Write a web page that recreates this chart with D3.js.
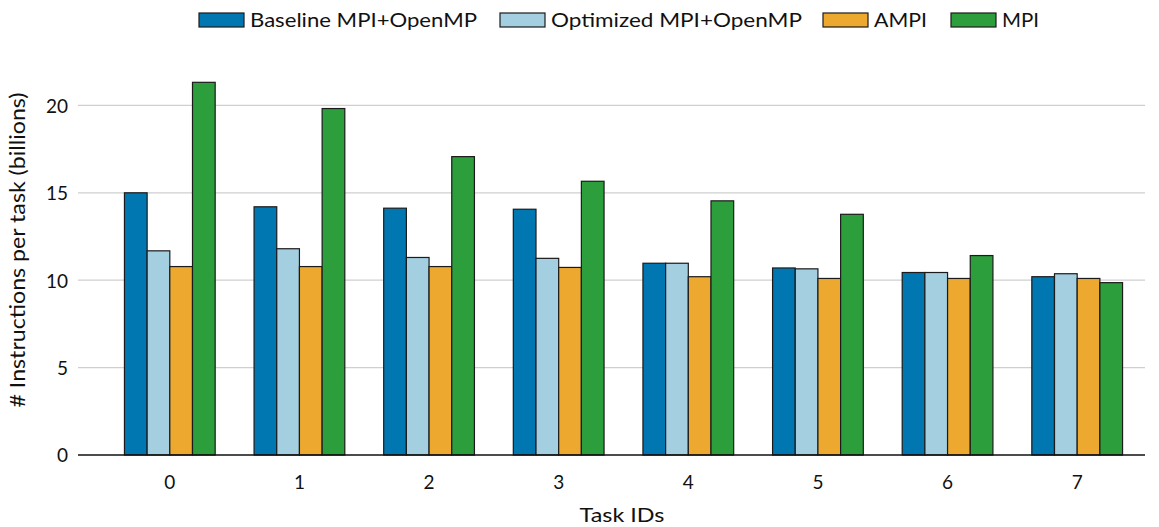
<!DOCTYPE html>
<html>
<head>
<meta charset="utf-8">
<script src="https://cdn.jsdelivr.net/npm/d3@7"></script>
<style>
  body { margin: 0; background: #fff; }
  text { font-family: Lato, "Open Sans", sans-serif; fill: #111; }
</style>
</head>
<body>
<svg id="chart" width="1159" height="527"></svg>
<script>
// data
const tasks = ["0", "1", "2", "3", "4", "5", "6", "7"];
const seriesNames = ["Baseline MPI+OpenMP", "Optimized MPI+OpenMP", "AMPI", "MPI"];
const seriesColors = ["#0077b0", "#a3cfe1", "#eda92f", "#2c9e3c"];
const baseline  = [15.0, 14.2, 14.12, 14.06, 10.97, 10.7, 10.44, 10.2];
const optimized = [11.68, 11.8, 11.3, 11.25, 10.97, 10.65, 10.44, 10.37];
const ampi      = [10.78, 10.78, 10.78, 10.73, 10.2, 10.1, 10.1, 10.1];
const mpi       = [21.32, 19.82, 17.07, 15.66, 14.54, 13.77, 11.41, 9.86];
const yTicks = [0, 5, 10, 15, 20];

const allSeries = [baseline, optimized, ampi, mpi];

const svg = d3.select("#chart");
const plotLeft = 78, plotRight = 1145, plotBottom = 455;

var x0 = d3.scaleBand()
    .domain(tasks)
    .range([105, 1142])
    .paddingInner(0.3)
    .paddingOuter(0.15);

var x1 = d3.scaleBand()
    .domain(d3.range(seriesNames.length))
    .range([0, x0.bandwidth()]);

var y = d3.scaleLinear()
    .domain([0, 22])
    .range([plotBottom, plotBottom - 22 * 17.48]);

// grid
svg.append("g")
    .selectAll("line")
    .data(yTicks.filter(d => d > 0))
    .enter()
    .append("line")
    .attr("x1", plotLeft)
    .attr("x2", plotRight)
    .attr("y1", d => y(d))
    .attr("y2", d => y(d))
    .attr("stroke", "#cfcfcf")
    .attr("stroke-width", 1.2);

// bars
var groups = svg.append("g")
    .selectAll("g")
    .data(tasks)
    .enter()
    .append("g")
    .attr("transform", d => "translate(" + x0(d) + ",0)");

groups.selectAll("rect")
    .data((d, i) => allSeries.map((s, k) => ({ k: k, v: s[i] })))
    .enter()
    .append("rect")
    .attr("x", d => x1(d.k))
    .attr("y", d => y(d.v))
    .attr("width", x1.bandwidth())
    .attr("height", d => plotBottom - y(d.v))
    .attr("fill", d => seriesColors[d.k])
    .attr("stroke", "#1b1b1b")
    .attr("stroke-width", 1.2);

// axes
var yAxis = svg.append("g")
    .attr("transform", "translate(" + plotLeft + ",0)")
    .call(d3.axisLeft(y).tickValues(yTicks).tickSize(0).tickPadding(10));
yAxis.select(".domain").remove();
yAxis.selectAll("text")
    .attr("font-size", 19)
    .attr("dy", "0.36em")
    .style("font-family", "Lato")
    .style("fill", "#111");

var xAxis = svg.append("g")
    .attr("transform", "translate(0," + plotBottom + ")")
    .call(d3.axisBottom(x0).tickSize(0).tickPadding(21));
xAxis.select(".domain").remove();
xAxis.selectAll("text")
    .attr("font-size", 19)
    .style("font-family", "Lato")
    .style("fill", "#111");

svg.append("line")
    .attr("x1", plotLeft).attr("x2", plotRight)
    .attr("y1", plotBottom).attr("y2", plotBottom)
    .attr("stroke", "#111").attr("stroke-width", 1.3);

// axis titles (widths stretched to the reference's wider face)
svg.append("text")
    .attr("x", 622)
    .attr("y", 522)
    .attr("text-anchor", "middle")
    .attr("font-size", 20)
    .attr("textLength", 85)
    .attr("lengthAdjust", "spacingAndGlyphs")
    .text("Task IDs");

svg.append("text")
    .attr("transform", "translate(25,250) rotate(-90)")
    .attr("text-anchor", "middle")
    .attr("font-size", 21)
    .attr("textLength", 315)
    .attr("lengthAdjust", "spacingAndGlyphs")
    .text("# Instructions per task (billions)");

// legend
const legendX = [199, 500, 823, 951];
const legendTextW = [227, 251, 53, 37];
var items = svg.append("g")
    .selectAll("g")
    .data(seriesNames)
    .enter()
    .append("g")
    .attr("transform", (d, i) => "translate(" + legendX[i] + ",13)");
items.append("rect")
    .attr("width", 45)
    .attr("height", 14)
    .attr("fill", (d, i) => seriesColors[i])
    .attr("stroke", "#1b1b1b")
    .attr("stroke-width", 1.2);
items.append("text")
    .attr("x", 51)
    .attr("y", 13.5)
    .attr("font-size", 20)
    .attr("textLength", (d, i) => legendTextW[i])
    .attr("lengthAdjust", "spacingAndGlyphs")
    .text(d => d);
</script>
</body>
</html>
